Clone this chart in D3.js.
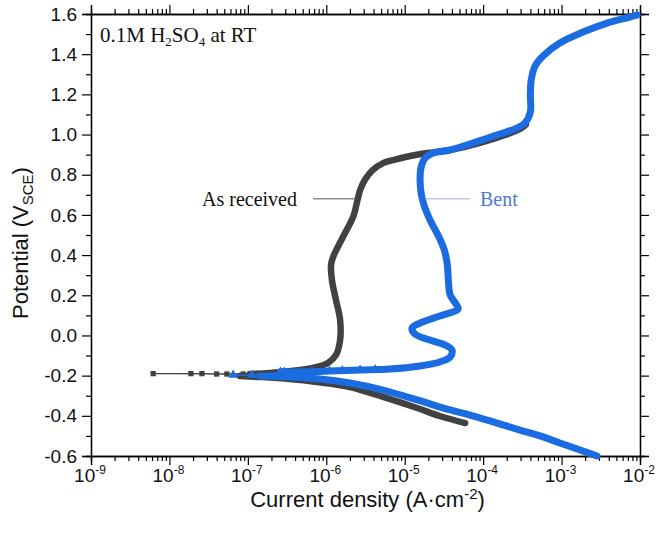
<!DOCTYPE html>
<html><head><meta charset="utf-8">
<script src="https://cdn.jsdelivr.net/npm/d3@7"></script>
<style>body{margin:0;background:#fff}</style>
</head><body>
<svg id="chart" width="656" height="536"></svg>
<script>
// ---- data ----
const xTickExponents = [-9, -8, -7, -6, -5, -4, -3, -2];
const yTickValues = [-0.6, -0.4, -0.2, 0.0, 0.2, 0.4, 0.6, 0.8, 1.0, 1.2, 1.4, 1.6];
const yTickLabels = ["-0.6", "-0.4", "-0.2", "0.0", "0.2", "0.4", "0.6", "0.8", "1.0", "1.2", "1.4", "1.6"];

// As received: cathodic branch (from -0.44 V up to Ecorr)
const asRecCathI = [5.9e-5, 2.8e-5, 1.44e-5, 5.3e-6, 2.0e-6, 7.6e-7, 3.4e-7, 1.43e-7, 7.9e-8];
const asRecCathE = [-0.436, -0.401, -0.361, -0.306, -0.257, -0.232, -0.217, -0.207, -0.202];
// As received: sparse points around Ecorr
const asRecSparseI = [8.7e-8, 5.4e-8, 4.0e-8, 2.6e-8, 1.88e-8, 6.2e-9];
const asRecSparseE = [-0.192, -0.192, -0.192, -0.190, -0.190, -0.190];
// As received: anodic branch
const asRecAnodI = [1.06e-7, 1.9e-7, 4.6e-7, 7.6e-7, 1.05e-6, 1.33e-6, 1.5e-6, 1.5e-6, 1.33e-6, 1.18e-6, 1.15e-6, 1.22e-6, 1.63e-6, 2.2e-6, 2.5e-6, 2.7e-6, 3.1e-6, 3.9e-6, 5.3e-6, 7.1e-6, 1.17e-5, 1.92e-5, 3.8e-5, 9.1e-5, 1.9e-4, 2.95e-4, 3.5e-4];
const asRecAnodE = [-0.192, -0.187, -0.172, -0.157, -0.137, -0.097, -0.023, 0.077, 0.176, 0.276, 0.351, 0.390, 0.490, 0.590, 0.674, 0.724, 0.774, 0.823, 0.858, 0.873, 0.893, 0.908, 0.923, 0.958, 0.998, 1.028, 1.050];

// Bent: cathodic branch (from -0.6 V up to Ecorr)
const bentCathI = [2.83e-3, 1.72e-3, 9.5e-4, 5.3e-4, 2.95e-4, 1.5e-4, 6.8e-5, 3.8e-5, 1.44e-5, 5.3e-6, 2.0e-6, 8.3e-7, 3.4e-7, 1.43e-7];
const bentCathE = [-0.600, -0.570, -0.535, -0.500, -0.471, -0.436, -0.396, -0.371, -0.321, -0.272, -0.237, -0.217, -0.207, -0.202];
// Bent: sparse points around Ecorr
const bentSparseI = [6.5e-8, 1.13e-7, 2.6e-7, 2.9e-7, 4.6e-7, 6.5e-7, 1.1e-6, 1.6e-6, 2.7e-6, 4.2e-6];
const bentSparseE = [-0.197, -0.197, -0.182, -0.182, -0.182, -0.180, -0.177, -0.175, -0.172, -0.170];
// Bent: anodic branch
const bentAnodI = [2.6e-7, 4.6e-7, 1.1e-6, 2.7e-6, 6.5e-6, 1.57e-5, 2.8e-5, 3.8e-5, 4.0e-5, 3.3e-5, 2.1e-5, 1.35e-5, 1.24e-5, 1.57e-5, 2.8e-5, 4.8e-5, 4.5e-5, 3.8e-5, 3.6e-5, 3.5e-5, 3.2e-5, 2.65e-5, 2.1e-5, 1.76e-5, 1.61e-5, 1.57e-5, 1.61e-5, 1.82e-5, 2.3e-5, 3.8e-5, 6.2e-5, 1.06e-4, 1.64e-4, 2.55e-4, 3.4e-4, 4.0e-4, 4.0e-4, 4.1e-4, 4.6e-4, 5.8e-4, 9.5e-4, 1.87e-3, 3.8e-3, 7.4e-3, 9.2e-3];
const bentAnodE = [-0.182, -0.182, -0.177, -0.172, -0.167, -0.152, -0.132, -0.107, -0.072, -0.048, -0.023, 0.007, 0.037, 0.062, 0.097, 0.132, 0.157, 0.201, 0.276, 0.351, 0.425, 0.500, 0.575, 0.649, 0.714, 0.774, 0.833, 0.883, 0.908, 0.923, 0.948, 0.978, 1.003, 1.028, 1.057, 1.112, 1.197, 1.271, 1.341, 1.391, 1.456, 1.510, 1.555, 1.585, 1.595];

// ---- layout ----
const svg = d3.select("#chart");
const L = 91, R = 640, T = 14, B = 456;
const x = d3.scaleLog().domain([1e-9, 1e-2]).range([L, R]);
const y = d3.scaleLinear().domain([-0.6, 1.6]).range([B, T]);
const grey = "#414141", blue = "#1a6ce0";
const sans = "'Liberation Sans', Arial, sans-serif";
const serif = "'Liberation Serif', 'Times New Roman', serif";

svg.append("rect").attr("width", 656).attr("height", 536).attr("fill", "#fff");

const majorX = xTickExponents.map(e => Math.pow(10, e));
const minorX = [];
for (let e = -9; e < -2; e++) for (let k = 2; k <= 9; k++) minorX.push(k * Math.pow(10, e));
const minorY = d3.range(-0.5, 1.6, 0.2);

function styleAxis(g) {
  g.select(".domain").attr("stroke", "#000").attr("stroke-width", 1.3);
  g.selectAll(".tick line").attr("stroke", "#000").attr("stroke-width", 1.2);
}
// bottom
const gb = svg.append("g").attr("transform", `translate(0,${B})`);
gb.call(d3.axisBottom(x).tickValues(majorX).tickSize(9).tickFormat(() => "")).call(styleAxis);
gb.append("g").call(d3.axisBottom(x).tickValues(minorX).tickSize(5).tickFormat(() => "")).call(styleAxis);
const xl = svg.append("g").selectAll("text").data(xTickExponents).join("text")
  .attr("x", d => x(Math.pow(10, d)) - 1).attr("y", B + 26)
  .attr("text-anchor", "middle").attr("font-family", sans).attr("font-size", 19).attr("fill", "#111");
xl.append("tspan").text("10");
xl.append("tspan").attr("dy", -8).attr("font-size", 12).text(d => String(d));
// top
const gt = svg.append("g").attr("transform", `translate(0,${T})`);
gt.call(d3.axisTop(x).tickValues(majorX).tickSize(9).tickFormat(() => "")).call(styleAxis);
gt.append("g").call(d3.axisTop(x).tickValues(minorX).tickSize(5).tickFormat(() => "")).call(styleAxis);
// left
const gl = svg.append("g").attr("transform", `translate(${L},0)`);
gl.call(d3.axisLeft(y).tickValues(yTickValues).tickSize(9).tickPadding(5)
  .tickFormat((d, i) => yTickLabels[i])).call(styleAxis);
gl.selectAll(".tick text").attr("font-family", sans).attr("font-size", 19).attr("fill", "#111");
gl.append("g").call(d3.axisLeft(y).tickValues(minorY).tickSize(5).tickFormat(() => "")).call(styleAxis);
// right
const gr = svg.append("g").attr("transform", `translate(${R},0)`);
gr.call(d3.axisRight(y).tickValues(yTickValues).tickSize(9).tickFormat(() => "")).call(styleAxis);
gr.append("g").call(d3.axisRight(y).tickValues(minorY).tickSize(5).tickFormat(() => "")).call(styleAxis);

// axis titles
const xt = svg.append("text").attr("x", (L + R) / 2 + 2).attr("y", 507).attr("text-anchor", "middle")
  .attr("font-family", sans).attr("font-size", 22).attr("fill", "#111");
xt.append("tspan").text("Current density (A\u00B7cm");
xt.append("tspan").attr("dy", -8).attr("font-size", 15).text("-2");
xt.append("tspan").attr("dy", 8).text(")");
const yt = svg.append("text").attr("transform", `translate(28,${(T + B) / 2 + 8}) rotate(-90)`)
  .attr("text-anchor", "middle").attr("font-family", sans).attr("font-size", 22).attr("fill", "#111");
yt.append("tspan").text("Potential (V");
yt.append("tspan").attr("dy", 5).attr("font-size", 15).text("SCE");
yt.append("tspan").attr("dy", -5).text(")");

// condition label
const cl = svg.append("text").attr("x", 100).attr("y", 42).attr("font-family", serif)
  .attr("font-size", 21).attr("fill", "#111");
cl.append("tspan").text("0.1M H");
cl.append("tspan").attr("dy", 4).attr("font-size", 13).text("2");
cl.append("tspan").attr("dy", -4).text("SO");
cl.append("tspan").attr("dy", 4).attr("font-size", 13).text("4");
cl.append("tspan").attr("dy", -4).text(" at RT");

// ---- curves ----
const zip = (I, E) => I.map((v, i) => [v, E[i]]);
const line = d3.line().x(d => x(d[0])).y(d => y(d[1])).curve(d3.curveCatmullRom.alpha(0.5));
const thin = d3.line().x(d => x(d[0])).y(d => y(d[1]));

function drawSeries(cath, sparse, anod, color, width, marker, msize) {
  const g = svg.append("g");
  const thinPts = [cath[cath.length - 1], ...sparse].concat([anod[0]]);
  g.append("path").attr("d", thin(thinPts)).attr("fill", "none").attr("stroke", color).attr("stroke-width", 1);
  g.append("path").attr("d", line(cath)).attr("fill", "none").attr("stroke", color)
    .attr("stroke-width", width).attr("stroke-linecap", "round").attr("stroke-linejoin", "round");
  g.append("path").attr("d", line(anod)).attr("fill", "none").attr("stroke", color)
    .attr("stroke-width", width).attr("stroke-linecap", "round").attr("stroke-linejoin", "round");
  g.selectAll("path.m").data(sparse).join("path").attr("class", "m")
    .attr("transform", d => `translate(${x(d[0])},${y(d[1])})`)
    .attr("d", d3.symbol(marker, msize)).attr("fill", color);
}
drawSeries(zip(asRecCathI, asRecCathE), zip(asRecSparseI, asRecSparseE), zip(asRecAnodI, asRecAnodE), grey, 6.5, d3.symbolSquare, 28);
drawSeries(zip(bentCathI, bentCathE), zip(bentSparseI, bentSparseE), zip(bentAnodI, bentAnodE), blue, 7, d3.symbolTriangle, 40);

// ---- labels ----
const labelE = 0.68;
svg.append("line").attr("x1", 313).attr("x2", 357).attr("y1", y(labelE)).attr("y2", y(labelE))
  .attr("stroke", "#555").attr("stroke-width", 1);
svg.append("text").attr("x", 297).attr("y", y(labelE) + 7).attr("text-anchor", "end")
  .attr("font-family", serif).attr("font-size", 20).attr("fill", "#111").text("As received");
svg.append("line").attr("x1", 425).attr("x2", 470).attr("y1", y(labelE)).attr("y2", y(labelE))
  .attr("stroke", "#8fb0ea").attr("stroke-width", 1);
svg.append("text").attr("x", 480).attr("y", y(labelE) + 7)
  .attr("font-family", serif).attr("font-size", 20).attr("fill", "#4a7bd2").text("Bent");
</script>
</body></html>
